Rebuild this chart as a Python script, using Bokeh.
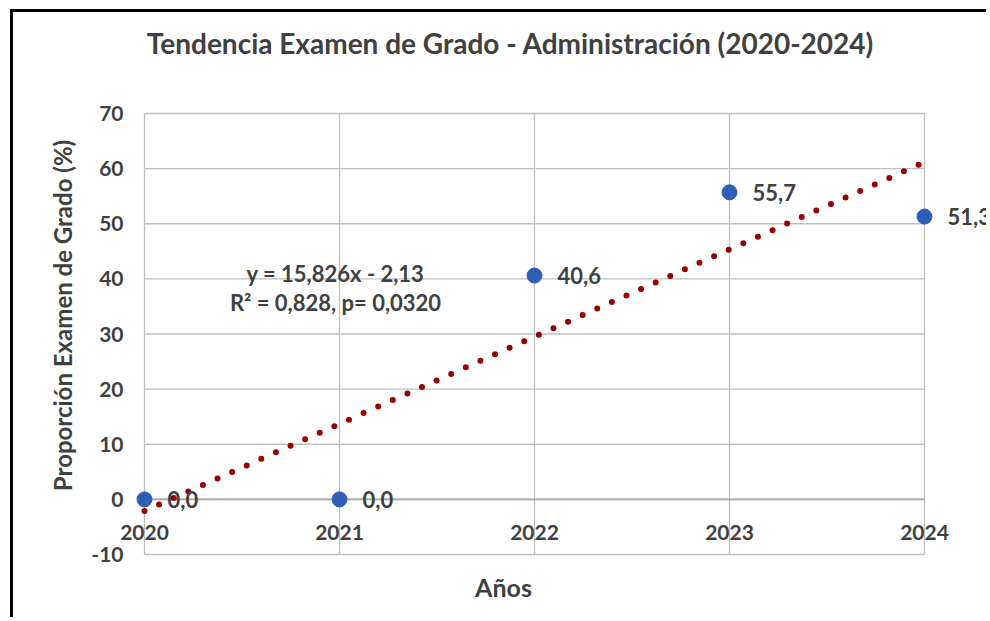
import math
from bokeh.plotting import figure
from bokeh.models import ColumnDataSource, LabelSet, Label, Range1d
from bokeh.embed import file_html
from bokeh.resources import INLINE
from bokeh.core.properties import value

# ---- data ----
years = [2020, 2021, 2022, 2023, 2024]
proportion = [0.0, 0.0, 40.6, 55.7, 51.3]
value_labels = ["0,0", "0,0", "40,6", "55,7", "51,3"]
year_labels = ["2020", "2021", "2022", "2023", "2024"]
y_ticks = [-10, 0, 10, 20, 30, 40, 50, 60, 70]
y_tick_labels = ["-10", "0", "10", "20", "30", "40", "50", "60", "70"]
trend_slope = 15.826
trend_intercept = -2.13
trend_eq_text = "y = 15,826x - 2,13"
trend_r2_text = "0,828"
trend_p_text = "0,0320"
title_text = "Tendencia Examen de Grado - Administración (2020-2024)"
x_title = "Años"
y_title = "Proporción Examen de Grado (%)"

FONT = "Lato"
TXT = "#404040"
GRID = "#BFBFBF"
AXIS = "#A6A6A6"

# ---- layout (pixels) ----
W, H = 976, 608
CANVAS_X, CANVAS_Y = 13, 12          # page position of canvas (margin + border)
FRAME_L = CANVAS_X
FRAME_R = CANVAS_X + W
FRAME_T = CANVAS_Y
FRAME_B = CANVAS_Y + H
PLOT_L, PLOT_R = 144, 924           # pixel of first / last year
PLOT_T, PLOT_B = 113, 554           # pixel of top / bottom y tick
ppx = (PLOT_R - PLOT_L) / (years[-1] - years[0])
ppy = (PLOT_B - PLOT_T) / (y_ticks[-1] - y_ticks[0])
x_start = years[0] - (PLOT_L - FRAME_L) / ppx
x_end = years[-1] + (FRAME_R - PLOT_R) / ppx
y_start = y_ticks[0] - (FRAME_B - PLOT_B) / ppy
y_end = y_ticks[-1] + (PLOT_T - FRAME_T) / ppy

def dx(px):
    return years[0] + (px - PLOT_L) / ppx

def dy(py):
    return y_ticks[0] + (PLOT_B - py) / ppy

p = figure(width=W, height=H, output_backend="svg", toolbar_location=None,
           x_range=Range1d(x_start, x_end), y_range=Range1d(y_start, y_end),
           x_axis_location=None, y_axis_location=None,
           min_border_left=0, min_border_top=0, min_border_right=0, min_border_bottom=0)
p.styles = {"margin-left": "10px", "margin-top": "9px",
            "border-left": "3px solid #000", "border-top": "3px solid #000"}
p.outline_line_color = None
p.xgrid.visible = False
p.ygrid.visible = False

# grid lines limited to the plot box
n_y, n_x = len(y_ticks), len(years)
p.segment(x0=[years[0]] * n_y, x1=[years[-1]] * n_y, y0=y_ticks, y1=y_ticks,
          line_color=GRID, line_width=1.3)
p.segment(x0=years, x1=years, y0=[y_ticks[0]] * n_x, y1=[y_ticks[-1]] * n_x,
          line_color=GRID, line_width=1.3)
# horizontal axis line at 0
p.segment(x0=[years[0]], x1=[years[-1]], y0=[0], y1=[0], line_color=AXIS, line_width=1.8)

# trend line
tx = [years[0], years[-1]]
ty = [trend_intercept + trend_slope * (x - years[0]) for x in tx]
p.line(tx, ty, line_color="#990000", line_width=6, line_dash="0 16", line_cap="round")

# points
src = ColumnDataSource(dict(x=years, y=proportion, lab=value_labels,
                            zero=[0] * n_x, ylab=year_labels))
p.scatter("x", "y", source=src, size=15, fill_color="#2E5EB6", line_color="#2E5EB6")

p.add_layout(LabelSet(x="x", y="y", text="lab", source=src, x_offset=23, y_offset=0,
                      text_baseline="middle", text_align="left",
                      text_font=value(FONT), text_font_size="22px", text_font_style="bold",
                      text_color=TXT))
# x tick labels (axis crosses at y = 0)
p.add_layout(LabelSet(x="x", y="zero", text="ylab", source=src, y_offset=-33,
                      text_baseline="middle", text_align="center",
                      text_font=value(FONT), text_font_size="21px", text_font_style="bold",
                      text_color=TXT))
# y tick labels
ysrc = ColumnDataSource(dict(x=[years[0]] * n_y, y=y_ticks, t=y_tick_labels))
p.add_layout(LabelSet(x="x", y="y", text="t", source=ysrc, x_offset=-21,
                      text_baseline="middle", text_align="right",
                      text_font=value(FONT), text_font_size="21px", text_font_style="bold",
                      text_color=TXT))

# texts
p.add_layout(Label(x=dx(510), y=dy(42), text=title_text, text_align="center",
                   text_baseline="middle", text_font=FONT, text_font_size="28px",
                   text_font_style="bold", text_color=TXT))
p.add_layout(Label(x=dx(503), y=dy(586), text=x_title, text_align="center",
                   text_baseline="middle", text_font=FONT, text_font_size="25px",
                   text_font_style="bold", text_color=TXT))
p.add_layout(Label(x=dx(62), y=dy(315), text=y_title, angle=math.pi / 2,
                   text_align="center", text_baseline="middle", text_font=FONT,
                   text_font_size="24px", text_font_style="bold", text_color=TXT))
eq2 = "R² = " + trend_r2_text + ", p= " + trend_p_text
p.add_layout(Label(x=dx(335), y=dy(273), text=trend_eq_text, text_align="center",
                   text_baseline="middle", text_font=FONT, text_font_size="22px",
                   text_font_style="bold", text_color=TXT))
p.add_layout(Label(x=dx(335), y=dy(302), text=eq2, text_align="center",
                   text_baseline="middle", text_font=FONT, text_font_size="22px",
                   text_font_style="bold", text_color=TXT))

open("out.html", "w").write(file_html(p, INLINE))
